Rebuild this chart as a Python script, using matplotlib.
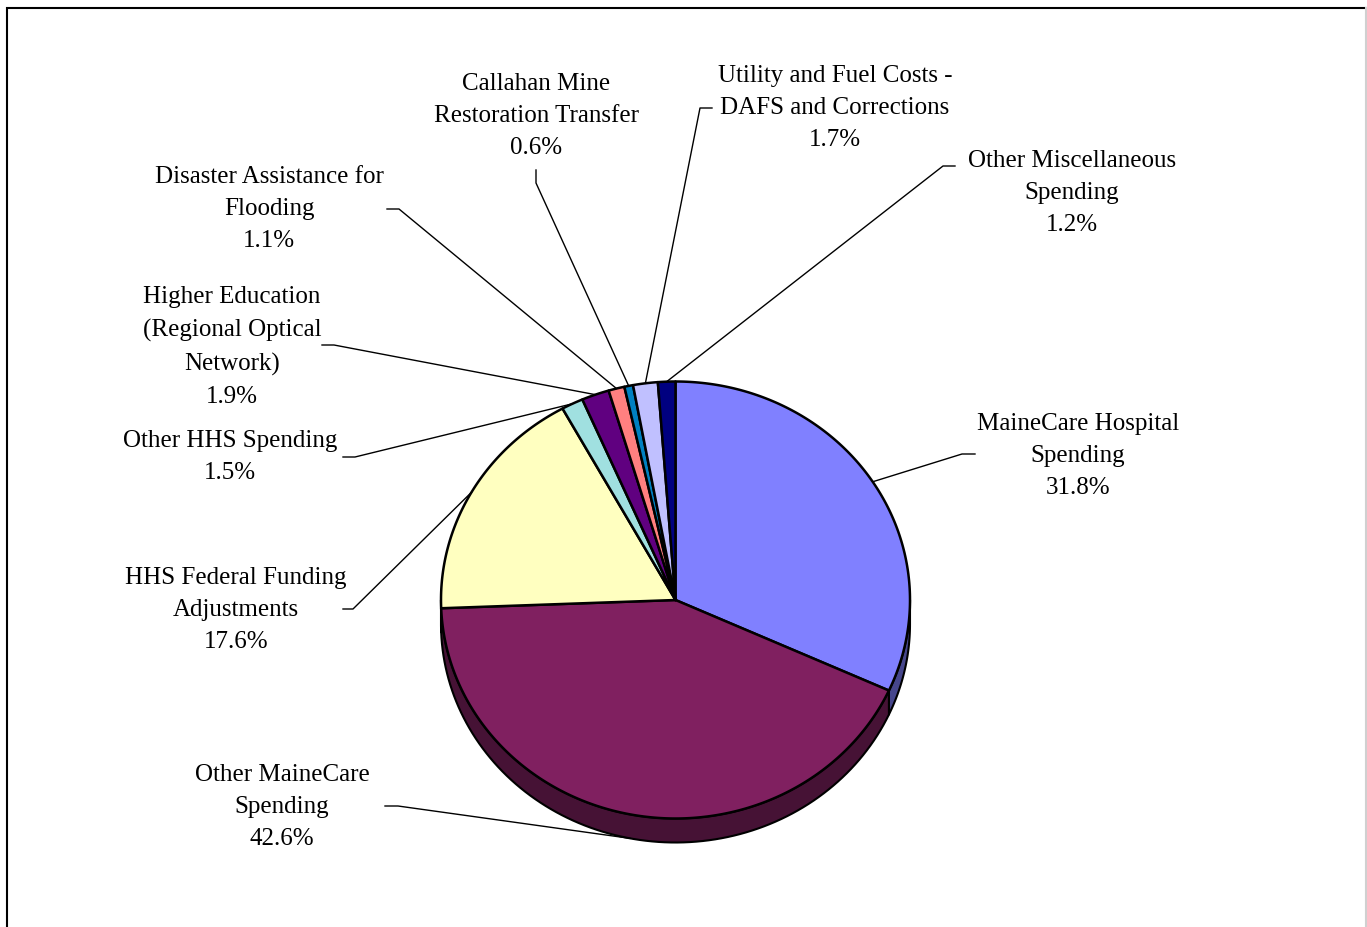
import numpy as np
import matplotlib.pyplot as plt
from matplotlib.patches import Polygon

plt.rcParams['font.family'] = ['Liberation Serif', 'DejaVu Serif']

labels = ["MaineCare Hospital\nSpending", "Other MaineCare\nSpending",
          "HHS Federal Funding\nAdjustments", "Other HHS Spending",
          "Higher Education\n(Regional Optical\nNetwork)", "Disaster Assistance for\nFlooding",
          "Callahan Mine\nRestoration Transfer", "Utility and Fuel Costs -\nDAFS and Corrections",
          "Other Miscellaneous\nSpending"]
shares = [31.8, 42.6, 17.6, 1.5, 1.9, 1.1, 0.6, 1.7, 1.2]
colors = ["#8080FF", "#802060", "#FFFFC0", "#A0E0E0", "#600080",
          "#FF8080", "#0080C0", "#C0C0FF", "#000080"]

# layout: text block centres, leader start and elbow
label_xy = [(1078, 456), (282, 807), (236, 610), (230, 457), (232, 347),
            (269, 209), (536, 116), (835, 108), (1072, 193)]
leader_start = [(975, 454), (385, 806), (343, 609), (343, 457), (322, 345),
                (387, 209), (536, 170), (712, 108), (955, 166)]
leader_elbow = [(962, 454), (398, 806), (353, 609), (355, 457), (334, 345),
                (399, 209), (536, 183), (700, 108), (943, 166)]

cx, cy, rx, ry, depth = 675.5, 600, 234.5, 218.5, 24

fig = plt.figure(figsize=(13.67, 9.27), dpi=100)
ax = fig.add_axes([0, 0, 1, 1])
ax.set_xlim(0, 1367)
ax.set_ylim(927, 0)
ax.axis('off')

# frame
ax.plot([7, 7, 1366], [930, 8, 8], color='black', lw=1.5, solid_joinstyle='miter')
ax.plot([1366, 1366], [8, 930], color='#d0d0d0', lw=1.5)


def pt(a, dy=0.0):
    return cx + rx * np.cos(a), cy - ry * np.sin(a) + dy


fracs = np.array(shares) / np.sum(shares)
starts = np.pi / 2 - 2 * np.pi * np.concatenate([[0], np.cumsum(fracs)[:-1]])
ends = starts - 2 * np.pi * fracs


def darker(c, f=0.55):
    c = c.lstrip('#')
    r, g, b = [int(c[i:i + 2], 16) / 255 for i in (0, 2, 4)]
    return (r * f, g * f, b * f)


# sides (front half only)
for s, e, c in zip(starts, ends, colors):
    lo, hi = max(e, -np.pi), min(s, 0)
    if lo < hi:
        t = np.linspace(hi, lo, 100)
        xs, ys = pt(t)
        xb, yb = pt(t[::-1], depth)
        poly = np.column_stack([np.concatenate([xs, xb]), np.concatenate([ys, yb])])
        ax.add_patch(Polygon(poly, closed=True, fc=darker(c), ec='black', lw=1.5,
                             joinstyle='round'))

# top faces
for s, e, c in zip(starts, ends, colors):
    t = np.linspace(s, e, max(int(abs(s - e) * 80), 4))
    xs, ys = pt(t)
    poly = np.column_stack([np.concatenate([[cx], xs]), np.concatenate([[cy], ys])])
    ax.add_patch(Polygon(poly, closed=True, fc=c, ec='black', lw=1.8, joinstyle='round'))

# labels and leader lines
for i, (lab, v) in enumerate(zip(labels, shares)):
    mid = (starts[i] + ends[i]) / 2
    dy = depth if np.sin(mid) < -0.5 else 0
    ex, ey = pt(mid, dy)
    sx, sy = leader_start[i]
    bx, by = leader_elbow[i]
    ax.plot([sx, bx, ex], [sy, by, ey], color='black', lw=1)
    tx, ty = label_xy[i]
    ax.text(tx, ty, f"{lab}\n{v:.1f}%", ha='center', va='center', fontsize=18,
            linespacing=1.6, multialignment='center')

fig.savefig('out.png', dpi=100)
